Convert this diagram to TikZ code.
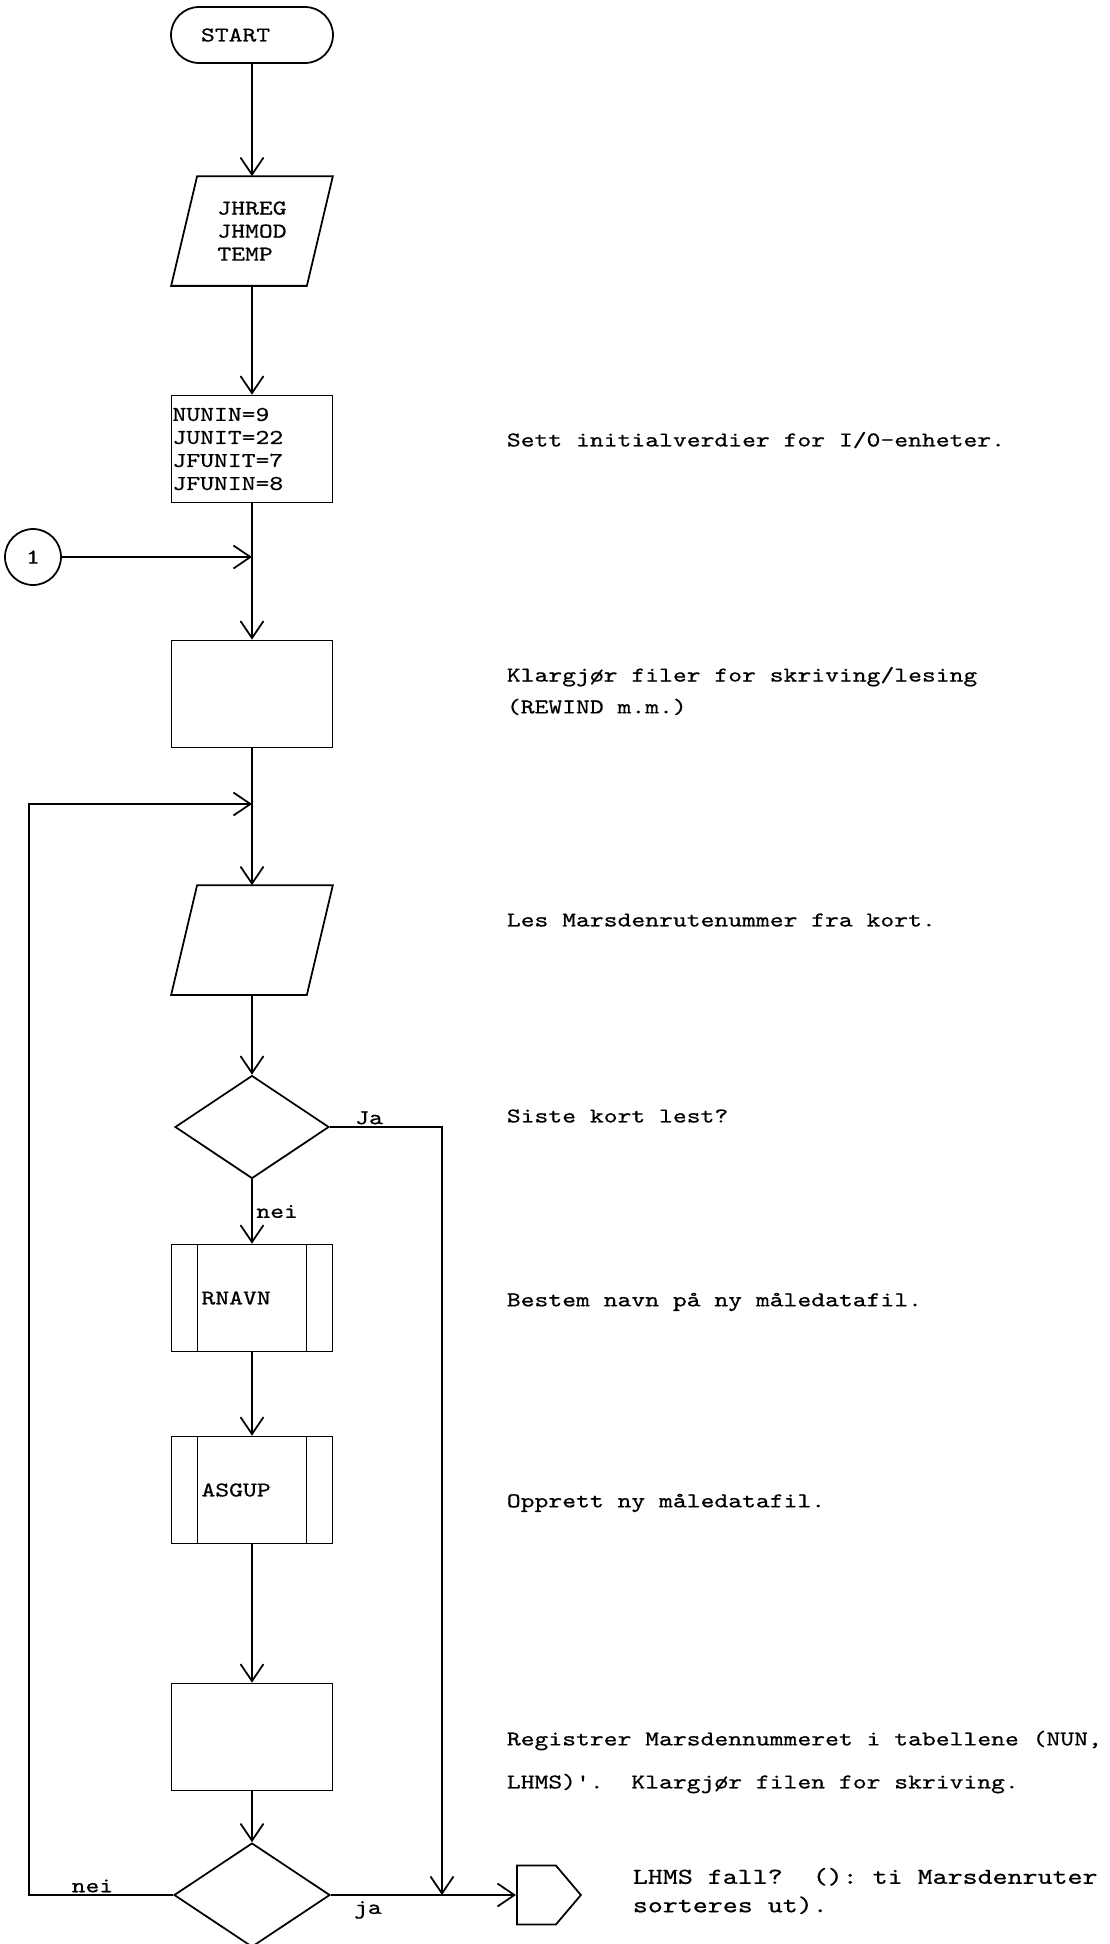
\documentclass[tikz,border=0pt]{standalone}
\usepackage{fontspec}
\setmonofont{lmmono10-regular.otf}[FakeStretch=1.25, FakeBold=0.6]
\usetikzlibrary{arrows.meta,shapes.geometric,shapes.symbols}

\begin{document}
\begin{tikzpicture}[x=0.02cm, y=-0.02cm, line width=1pt,
    >={Straight Barb[length=3.4mm,width=4.6mm]},
    every node/.style={font=\ttfamily\fontsize{12}{13.1}\selectfont},
    term/.style={draw, rounded corners=0.56cm, minimum width=3.24cm, minimum height=1.12cm,
      text width=2.04cm, inner xsep=0.6cm, align=left},
    io/.style={minimum width=3.2cm, minimum height=2.16cm, inner sep=0, align=left,
      append after command={\pgfextra{\draw ([xshift=0.52cm]\tikzlastnode.north west)
        -- (\tikzlastnode.north east) -- ([xshift=-0.52cm]\tikzlastnode.south east)
        -- (\tikzlastnode.south west) -- cycle;}}},
    proc/.style={draw, minimum width=3.22cm, minimum height=2.14cm, text width=3.18cm,
      inner xsep=0.02cm, align=left},
    sub/.style={proc, text width=2.02cm, inner xsep=0.6cm,
      path picture={
        \draw ([xshift=0.52cm]path picture bounding box.north west) -- ([xshift=0.52cm]path picture bounding box.south west);
        \draw ([xshift=-0.52cm]path picture bounding box.north east) -- ([xshift=-0.52cm]path picture bounding box.south east);}},
    test/.style={draw, diamond, minimum width=3.08cm, minimum height=2.06cm, inner sep=0},
    conn/.style={draw, circle, minimum size=1.12cm, inner sep=0},
    offpage/.style={draw, signal, signal to=east, signal pointer angle=99.5,
      minimum width=1.28cm, minimum height=1.18cm, inner sep=0},
    note/.style={anchor=west, align=left, inner sep=0}]
  \useasboundingbox (0,0) rectangle (1109,1944);

  \node[term] (start) at (252,35) {START};
  \node[io] (inp) at (252,231) {JHREG\\JHMOD\\TEMP};
  \node[proc] (init) at (252,449) {NUNIN=9\\JUNIT=22\\JFUNIT=7\\JFUNIN=8};
  \node[conn] (c1) at (33,557) {1};
  \coordinate (j1) at (252,557);
  \node[proc] (prep) at (252,694) {};
  \coordinate (j2) at (252,804);
  \node[io] (rd) at (252,940) {};
  \node[test] (chk) at (252,1127) {};
  \node[sub] (navn) at (252,1298) {RNAVN};
  \node[sub] (asg) at (252,1490) {ASGUP};
  \node[proc] (reg) at (252,1737) {};
  \node[test, minimum width=3.12cm, minimum height=2.08cm] (full) at (252,1895) {};
  \node[offpage, anchor=west] (out) at (516,1895) {};
  \coordinate (rt) at (442,1127);
  \coordinate (rb) at (442,1895);
  \coordinate (lt) at (29,804);
  \coordinate (lb) at (29,1895);

  \draw[->] (start) -- (inp);
  \draw[->] (inp) -- (init);
  \draw[->] (init) -- (prep);
  \draw[->] (c1) -- (j1);
  \draw[->] (prep) -- (rd);
  \draw[->] (full) -- node[pos=0.56, above, inner sep=1pt] (lnei2) {nei} (lb) -- (lt) -- (j2);
  \draw[->] (rd) -- (chk);
  \draw[->] (chk) -- node[right, inner sep=2pt] (lnei1) {nei} (navn);
  \draw[->] (chk) -- node[pos=0.35, above, inner sep=1pt] (lja1) {Ja} (rt) -- (rb);
  \draw[->] (navn) -- (asg);
  \draw[->] (asg) -- (reg);
  \draw[->] (reg) -- (full);
  \draw[->] (full) -- node[pos=0.2, below, inner sep=3pt] (lja2) {ja} (out);

  \node[note] (n1) at (506,440) {Sett initialverdier for I/0-enheter.};
  \node[note] (n2) at (506,691) {Klargjør filer for skriving/lesing\\[5pt](REWIND m.m.)};
  \node[note] (n3) at (506,920) {Les Marsdenrutenummer fra kort.};
  \node[note] (n4) at (506,1116) {Siste kort lest?};
  \node[note] (n5) at (506,1302) {Bestem navn på ny måledatafil.};
  \node[note] (n6) at (506,1503) {Opprett ny måledatafil.};
  \node[note] (n7) at (506,1762) {Registrer Marsdennummeret i tabellene (NUN,\\[11.4pt]LHMS)'.\ \ Klargjør filen for skriving.};
  \node[note, font=\ttfamily\fontsize{13}{16.2}\selectfont] (n8) at (632,1891) {LHMS fall?\ \ (): ti Marsdenruter\\sorteres ut).};
\end{tikzpicture}
\end{document}
